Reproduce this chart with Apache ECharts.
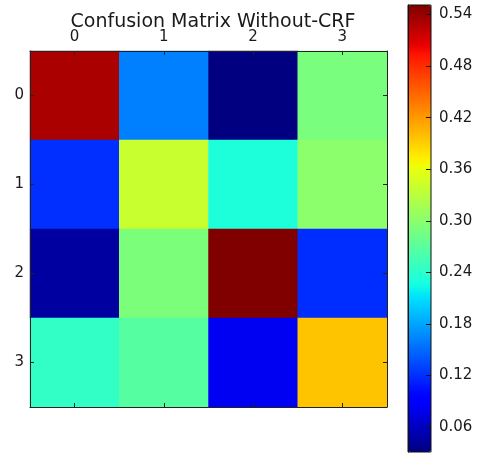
<!DOCTYPE html>
<html>
<head>
<meta charset="utf-8">
<script src="https://cdn.jsdelivr.net/npm/echarts@6/dist/echarts.min.js"></script>
<style>html,body{margin:0;padding:0;background:#fff}#c{width:478px;height:455px}</style>
</head>
<body>
<div id="c"></div>
<script>
// ---- data ----
var titleText = 'Confusion Matrix Without-CRF';
var xCats = ['0', '1', '2', '3'];
var yCats = ['0', '1', '2', '3'];
var row0 = [0.532, 0.161, 0.031, 0.290];
var row1 = [0.120, 0.339, 0.231, 0.301];
var row2 = [0.046, 0.291, 0.551, 0.119];
var row3 = [0.244, 0.267, 0.083, 0.396];
var colorbarTicks = [0.06, 0.12, 0.18, 0.24, 0.30, 0.36, 0.42, 0.48, 0.54];
var vMin = 0.031, vMax = 0.551;

// ---- build ----
var rows = [row0, row1, row2, row3];
var heatData = [];
rows.forEach(function (r, yi) {
  r.forEach(function (v, xi) { heatData.push([xi, yi, v]); });
});

function interp(pts, t) {
  for (var i = 1; i < pts.length; i++) {
    if (t <= pts[i][0]) {
      var a = pts[i - 1], b = pts[i];
      var f = (t - a[0]) / (b[0] - a[0] || 1);
      return a[1] + f * (b[1] - a[1]);
    }
  }
  return pts[pts.length - 1][1];
}
var R = [[0, 0], [0.35, 0], [0.66, 1], [0.89, 1], [1, 0.5]];
var G = [[0, 0], [0.125, 0], [0.375, 1], [0.64, 1], [0.91, 0], [1, 0]];
var B = [[0, 0.5], [0.11, 1], [0.34, 1], [0.65, 0], [1, 0]];
var jet = [];
for (var i = 0; i <= 200; i++) {
  var t = i / 200;
  var c = [interp(R, t), interp(G, t), interp(B, t)].map(function (x) { return Math.round(x * 255); });
  jet.push('rgb(' + c.join(',') + ')');
}

var font = 'DejaVu Sans';
var txt = '#1a1a1a';
function catAxis(pos, data, showLabel, grid, inverse) {
  return {
    type: 'category', data: data, gridIndex: grid, position: pos, inverse: !!inverse, z: 5,
    axisLine: { show: true, lineStyle: { color: '#222', width: 1 } },
    axisTick: { show: true, inside: true, alignWithLabel: true, length: 4, lineStyle: { color: '#222' } },
    axisLabel: { show: showLabel, fontSize: 15, color: txt, fontFamily: font, margin: 6 },
    splitLine: { show: false }
  };
}

var chart = echarts.init(document.getElementById('c'), null, { renderer: 'canvas' });
chart.setOption({
  animation: false,
  backgroundColor: '#fff',
  title: {
    text: titleText, left: 208, top: 8, textAlign: 'center',
    textStyle: { fontSize: 19, fontWeight: 'normal', color: txt, fontFamily: font }
  },
  grid: [
    { left: 30, top: 51, width: 357, height: 356, show: false },
    { left: 408, top: 5, width: 23, height: 447, show: true, z: 10,
      backgroundColor: 'transparent', borderColor: '#111', borderWidth: 1 }
  ],
  xAxis: [
    catAxis('top', xCats, true, 0),
    catAxis('bottom', xCats, false, 0),
    { type: 'value', gridIndex: 1, show: false, min: 0, max: 1 }
  ],
  yAxis: [
    catAxis('left', yCats, true, 0, true),
    catAxis('right', yCats, false, 0, true),
    { type: 'value', gridIndex: 1, position: 'right', min: vMin, max: vMax, z: 12,
      axisLine: { show: true, lineStyle: { color: '#111' } },
      axisTick: { show: false },
      axisLabel: { show: true, customValues: colorbarTicks, fontSize: 15, color: txt, fontFamily: font, margin: 8,
        formatter: function (v) { return v.toFixed(2); } },
      splitLine: { show: false } },
    { type: 'value', gridIndex: 1, position: 'left', offset: -23, min: vMin, max: vMax, z: 12,
      axisLine: { show: false },
      axisTick: { show: true, inside: false, length: 5, customValues: colorbarTicks, lineStyle: { color: '#111' } },
      axisLabel: { show: false },
      splitLine: { show: false } }
  ],
  visualMap: {
    type: 'continuous', min: vMin, max: vMax, calculable: false, hoverLink: false,
    orient: 'vertical', left: 408, top: 5, padding: 0,
    itemWidth: 23, itemHeight: 447, text: null, showLabel: false,
    seriesIndex: 0,
    inRange: { color: jet }
  },
  series: [{
    type: 'heatmap', xAxisIndex: 0, yAxisIndex: 0, data: heatData,
    itemStyle: { borderWidth: 0 },
    label: { show: false }
  }]
});
</script>
</body>
</html>
